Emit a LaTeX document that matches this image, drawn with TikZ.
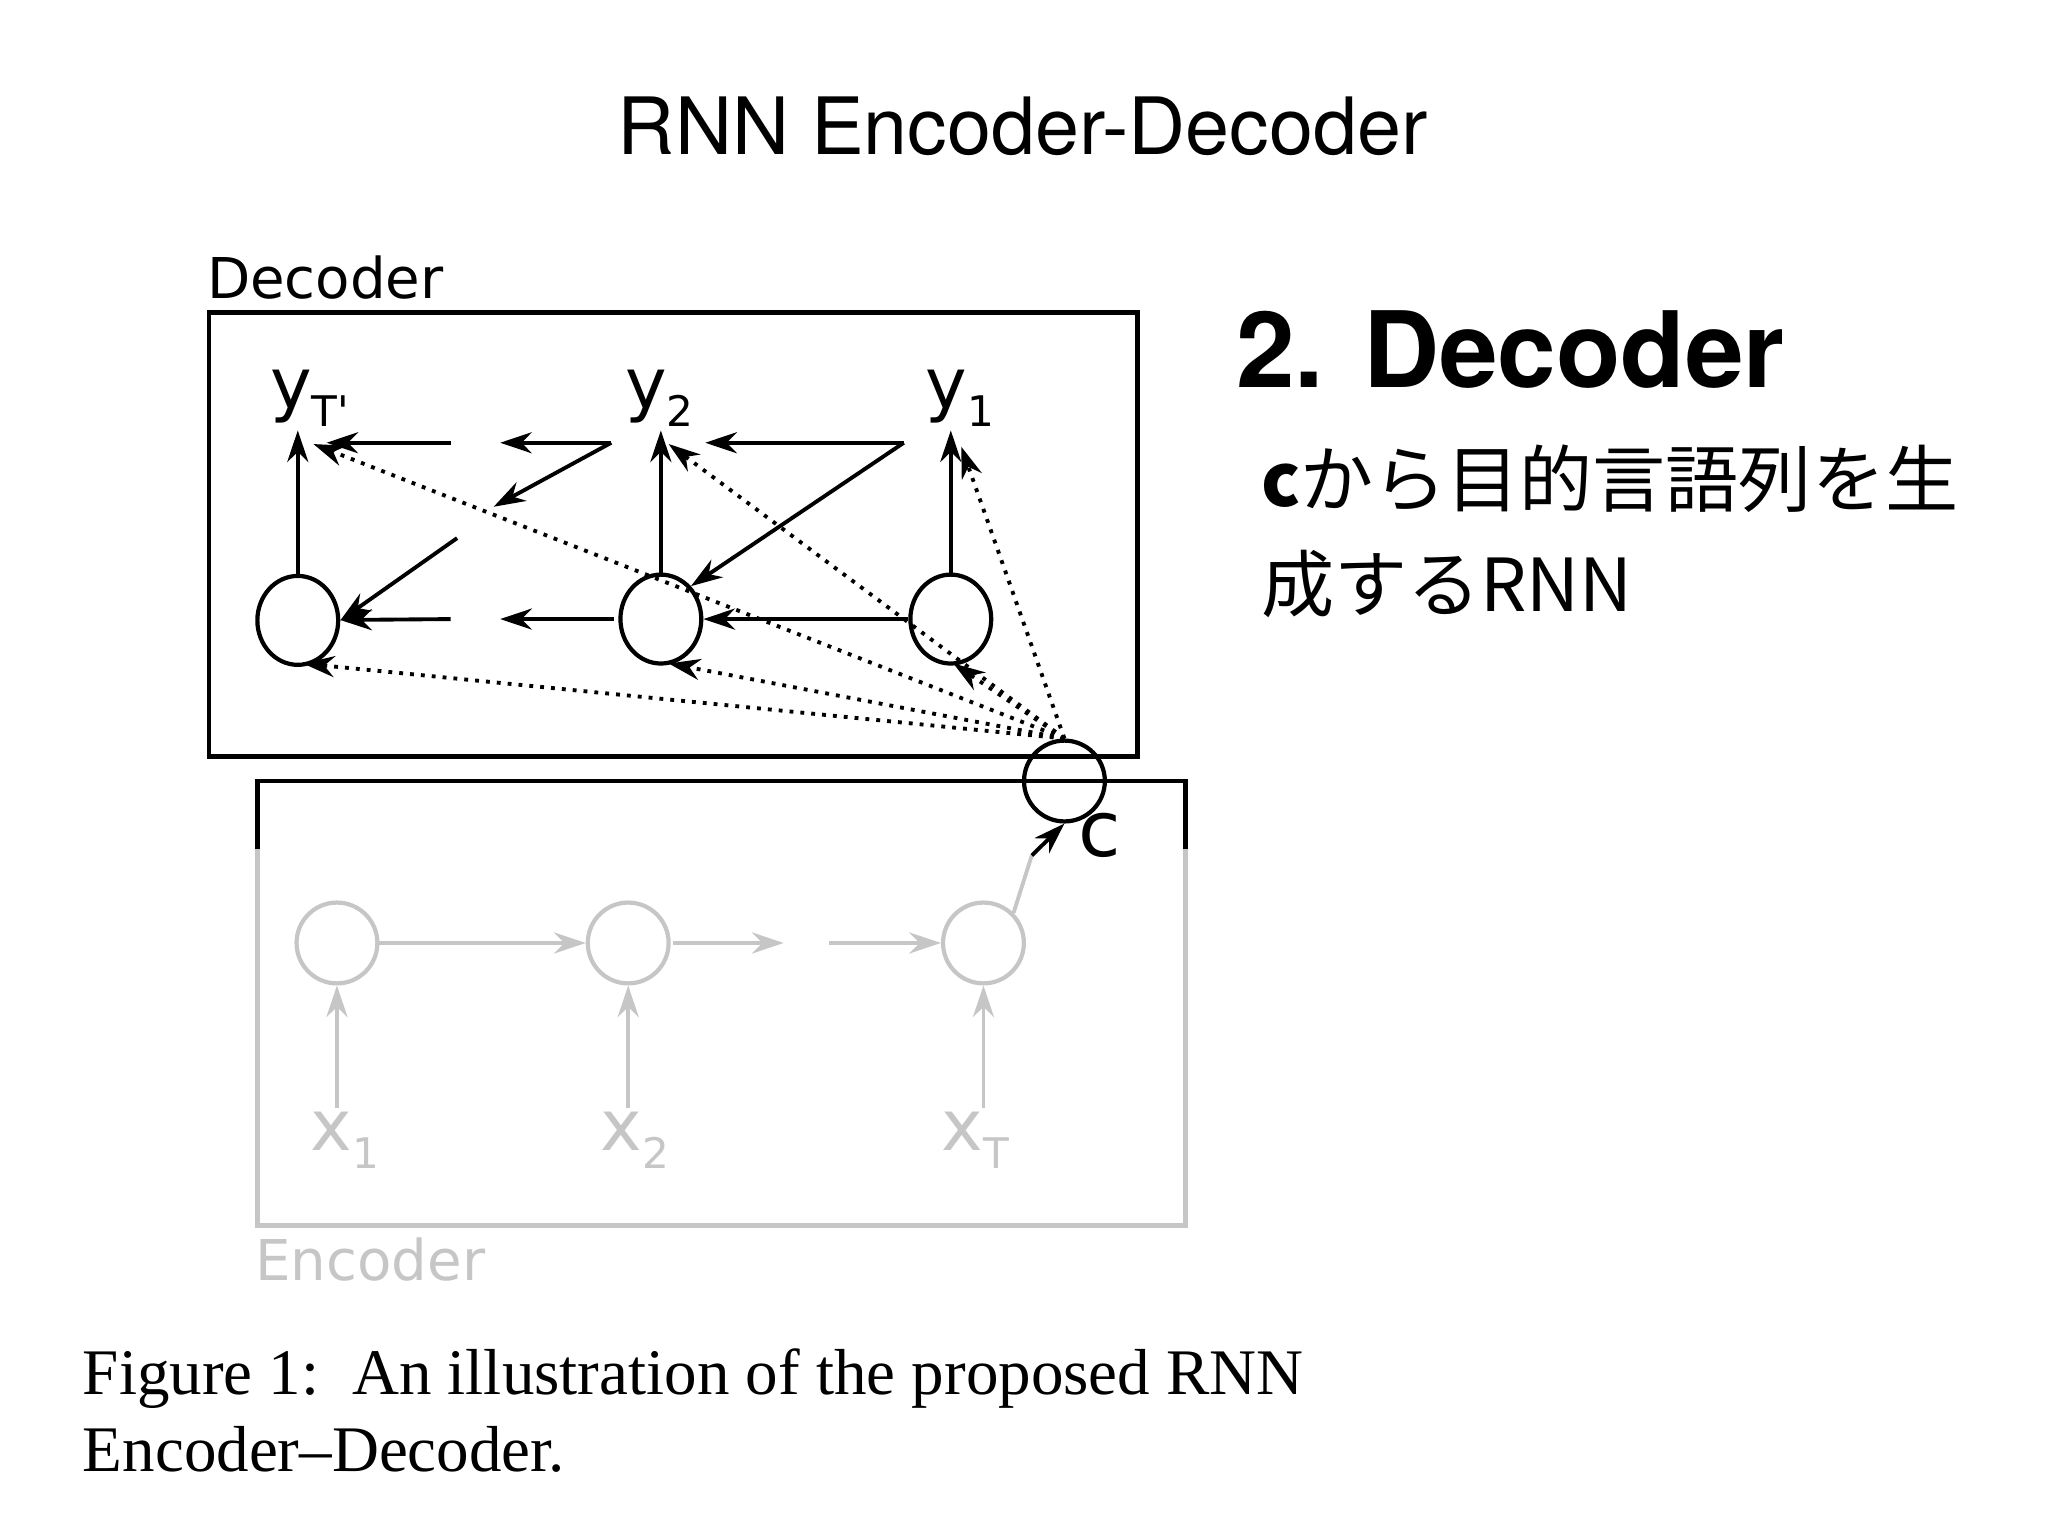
\documentclass[tikz,border=0pt]{standalone}
\usepackage{fontspec}
\setmainfont{Liberation Serif}
\newfontfamily\diagfont{DejaVu Sans}
\newfontfamily\slidefont{TeX Gyre Heros}
\newfontfamily\jpfont{Noto Sans CJK JP}
\usetikzlibrary{arrows.meta, calc, shapes.geometric}

% subscript in the diagram font
\newcommand{\dsub}[1]{\raisebox{-0.45ex}{\fontsize{12}{14}\selectfont #1}}

\begin{document}
\begin{tikzpicture}[x=0.01306cm, y=-0.01306cm,
    state/.style={draw, ellipse, minimum width=23pt, minimum height=25.3pt, inner sep=0pt, line width=1.2pt},
    encstate/.style={state, draw=gray!45, minimum width=23pt, minimum height=23pt},
    lbl/.style={font=\diagfont\fontsize{20}{24}\selectfont, inner sep=1pt},
    link/.style={line width=1.1pt, -{Stealth[length=9pt, width=6pt]}},
    ctx/.style={line width=1.1pt, dotted, -{Stealth[length=9pt, width=6pt]}},
    enclink/.style={link, draw=gray!45}]

    % --- Page ---
    \useasboundingbox (0,0) rectangle (1568.1,1176.1);

    % --- Title ---
    \node[font=\slidefont\fontsize{22.5}{27}\selectfont] (title) at (783,97) {RNN Encoder-Decoder};

    % --- Decoder box ---
    \draw[line width=1.4pt] (160,239) rectangle (871,579);
    \node[font=\diagfont\fontsize{16}{19}\selectfont, anchor=south west, inner sep=0pt] (declbl) at (158,230) {Decoder};

    % --- Encoder box (grey, top edge black) ---
    \draw[line width=1.4pt, gray!45] (197,650) -- (197,938) -- (908,938) -- (908,650);
    \draw[line width=1.4pt] (197,650) -- (197,598) -- (908,598) -- (908,650);
    \node[font=\diagfont\fontsize{16}{19}\selectfont, text=gray!45, anchor=north west, inner sep=0pt] (enclbl) at (195,947) {Encoder};

    % --- Decoder states and outputs ---
    \node[state] (h3) at (228,475) {};
    \node[state] (h2) at (506,474) {};
    \node[state] (h1) at (728,474) {};
    \node[lbl] (y3) at (237,305) {y\dsub{T'}};
    \node[lbl] (y2) at (505,305) {y\dsub{2}};
    \node[lbl] (y1) at (735,305) {y\dsub{1}};
    \node[state, minimum width=23pt, minimum height=23pt] (c) at (815,598) {};
    \node[lbl, font=\diagfont\fontsize{22}{26}\selectfont] (clbl) at (842,640) {c};

    % --- Encoder states and inputs ---
    \node[encstate] (e1) at (258,722) {};
    \node[encstate] (e2) at (481,722) {};
    \node[encstate] (e3) at (753,722) {};
    \node[lbl, text=gray!45] (x1) at (264,873) {x\dsub{1}};
    \node[lbl, text=gray!45] (x2) at (486,873) {x\dsub{2}};
    \node[lbl, text=gray!45] (x3) at (747,873) {x\dsub{T}};

    % --- Helper coordinates for broken links ---
    \coordinate (t1) at (692,339);
    \coordinate (t2) at (468,339);
    \coordinate (t2e) at (383,339);
    \coordinate (t3) at (345,339);
    \coordinate (d2e) at (378,388);
    \coordinate (d3) at (350,412);
    \coordinate (b2) at (470,474);
    \coordinate (b2e) at (383,474);
    \coordinate (b3) at (345,474);
    \coordinate (m1) at (515,722);
    \coordinate (m1e) at (600,722);
    \coordinate (m2) at (635,722);
    \coordinate (k1) at (790,655);

    % --- Decoder links ---
    \draw[link] (h1) -- (y1.south -| h1);
    \draw[link] (h2) -- (y2.south -| h2);
    \draw[link] (h3) -- (y3.south -| h3);
    \draw[link] (t1) -- (540,339);
    \draw[link] (t2) -- (t2e);
    \draw[link] (t3) -- (250,339);
    \draw[link] (t1) -- (h2.north east);
    \draw[link] (t2) -- (d2e);
    \draw[link] (d3) -- (h3.east);
    \draw[link] (h1) -- (h2);
    \draw[link] (b2) -- (b2e);
    \draw[link] (b3) -- (h3);

    % --- Context links (dotted) ---
    \foreach \tip in {(240,340), (512,340), (736,342), (232,508), (512,508), (730,508)}
        \draw[ctx] (c.north) -- \tip;

    % --- Encoder links ---
    \draw[enclink] (e1) -- (e2);
    \draw[enclink] (m1) -- (m1e);
    \draw[enclink] (m2) -- (e3);
    \foreach \i in {1,2,3}
        \draw[enclink] (x\i.north -| e\i) -- (e\i);
    \draw[line width=1.1pt, gray!45] (e3.north east) -- (k1);
    \draw[link] (k1) -- (c.south);

    % --- Right-hand text ---
    \node[font=\slidefont\bfseries\fontsize{30}{35}\selectfont, anchor=west, inner sep=0pt] (head) at (946,268) {2. Decoder};
    \node[font=\jpfont\fontsize{20.8}{30}\selectfont, anchor=north west, align=left, inner sep=0pt] (body) at (965,340)
        {\textbf{c}から目的言語列を生\\成するRNN};

    % --- Caption ---
    \node[font=\fontsize{18.5}{22}\selectfont, anchor=north west, align=left, inner sep=0pt] (cap) at (63,1032)
        {Figure 1:\ \ An illustration of the proposed RNN\\Encoder--Decoder.};

\end{tikzpicture}
\end{document}
